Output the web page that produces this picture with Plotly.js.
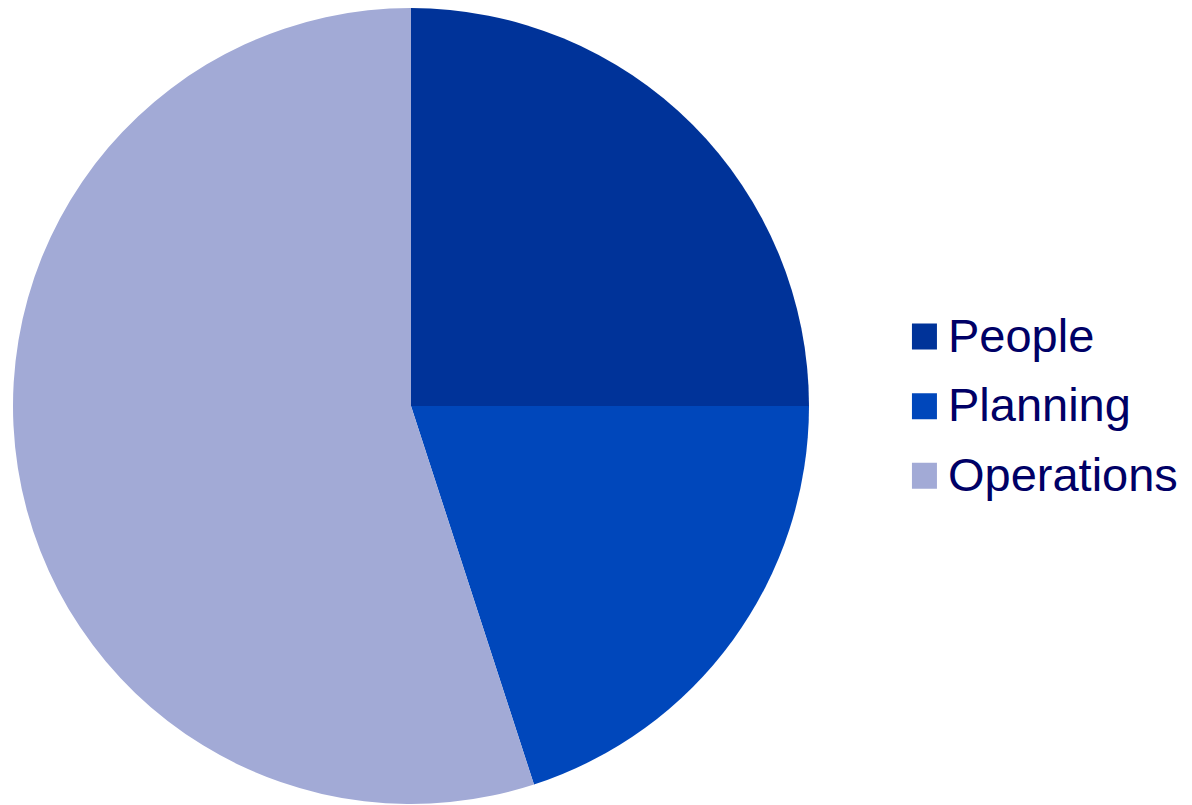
<!DOCTYPE html>
<html>
<head>
<meta charset="utf-8">
<script src="https://cdn.plot.ly/plotly-3.0.1.min.js"></script>
<style>
  html, body { margin: 0; padding: 0; background: #ffffff; }
  #chart { width: 1192px; height: 805px; }
</style>
</head>
<body>
<div id="chart"></div>
<script>
const categories = ["People", "Planning", "Operations"];
const shares = [25, 20, 55];
const sliceColors = ["#003399", "#0047BB", "#A2AAD6"];

const legendLabels = categories.map(function (c) {
  return '<span style="font-size:47px">' + c + '</span>';
});

const trace = {
  type: "pie",
  labels: legendLabels,
  values: shares,
  sort: false,
  direction: "clockwise",
  rotation: 0,
  textinfo: "none",
  hoverinfo: "label+percent",
  marker: { colors: sliceColors, line: { width: 0 } },
  domain: { x: [13 / 1192, 809 / 1192], y: [1 / 805, 797 / 805] }
};

const layout = {
  width: 1192,
  height: 805,
  margin: { l: 0, r: 0, t: 0, b: 0, pad: 0 },
  paper_bgcolor: "#ffffff",
  showlegend: true,
  legend: {
    x: 0.7617,
    xanchor: "left",
    y: 0.5015,
    yanchor: "middle",
    font: { family: "Liberation Sans, Arial, sans-serif", size: 51.2, color: "#000066" },
    tracegroupgap: 0,
    bgcolor: "rgba(0,0,0,0)"
  }
};

Plotly.newPlot("chart", [trace], layout, { displayModeBar: false, staticPlot: true }).then(function (gd) {
  gd.querySelectorAll(".legendpoints path").forEach(function (p) {
    p.setAttribute("d", "M9,18H-16V-8H9Z");
  });
});
</script>
</body>
</html>
